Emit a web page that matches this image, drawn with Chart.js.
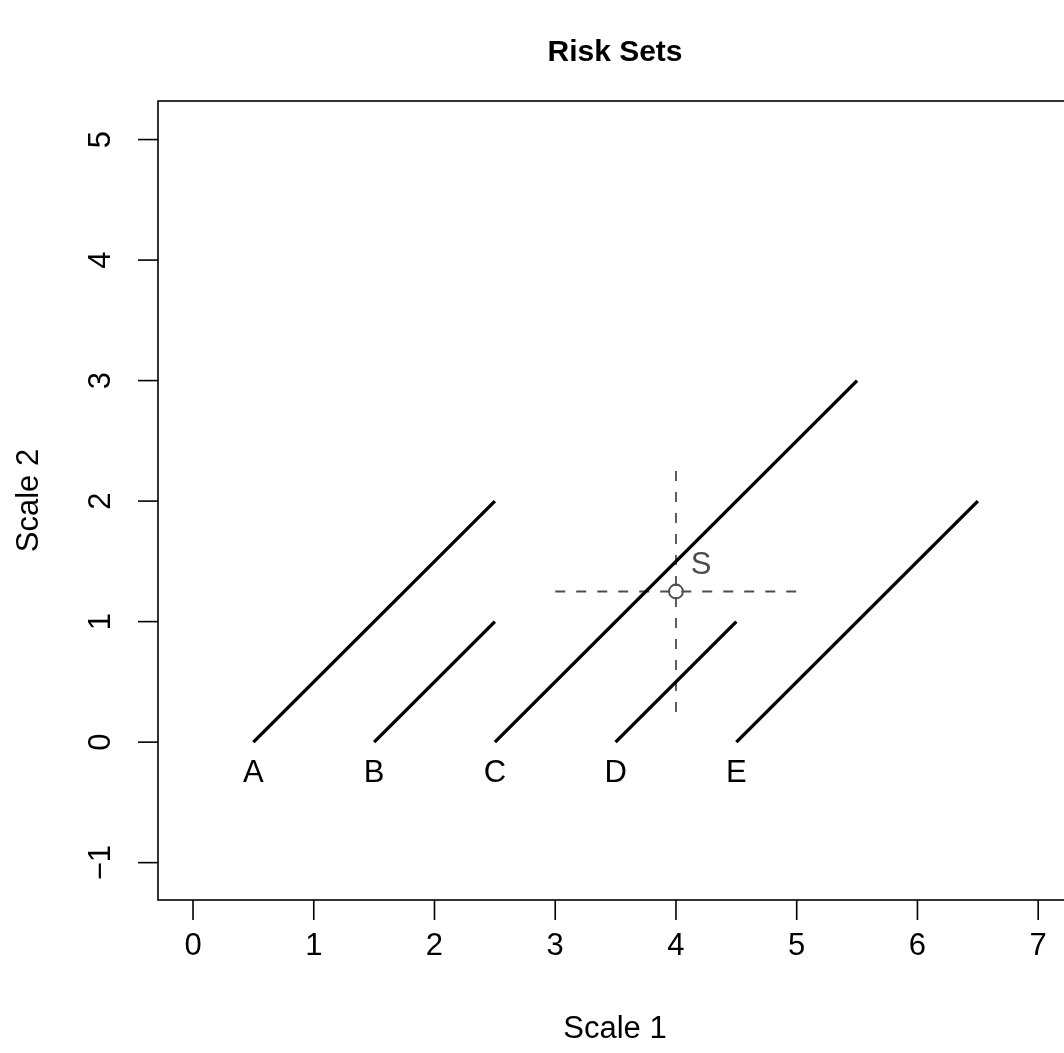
<!DOCTYPE html>
<html>
<head>
<meta charset="utf-8">
<script src="https://cdn.jsdelivr.net/npm/chart.js@4.4.1/dist/chart.umd.min.js"></script>
<style>
  html, body { margin: 0; padding: 0; background: #fff; overflow: hidden; }
  #wrap { width: 1100px; height: 1053px; }
</style>
</head>
<body>
<div id="wrap"><canvas id="chart" width="1100" height="1053"></canvas></div>
<script>
// risk set segments
const setNames = ["A", "B", "C", "D", "E"];
const startX = [0.5, 1.5, 2.5, 3.5, 4.5];
const startY = [0, 0, 0, 0, 0];
const endX = [2.5, 2.5, 5.5, 4.5, 6.5];
const endY = [2, 1, 3, 1, 2];

// the point S and its crosshair
const pointName = "S";
const pointX = 4;
const pointY = 1.25;
const crossX = [3, 5];
const crossY = [0.25, 2.25];

const xTicks = [0, 1, 2, 3, 4, 5, 6, 7];
const yTicks = [-1, 0, 1, 2, 3, 4, 5];

const grey = "#4d4d4d";
const font = "Liberation Sans, Arial, sans-serif";

const datasets = setNames.map((n, i) => ({
  label: n,
  data: [{ x: startX[i], y: startY[i] }, { x: endX[i], y: endY[i] }],
  showLine: true,
  borderColor: "#000",
  borderWidth: 3.4,
  pointRadius: 0,
}));
datasets.push({
  label: "hline",
  data: [{ x: crossX[0], y: pointY }, { x: crossX[1], y: pointY }],
  showLine: true,
  borderColor: grey,
  borderWidth: 1.8,
  borderDash: [10, 11],
  pointRadius: 0,
});
datasets.push({
  label: "vline",
  data: [{ x: pointX, y: crossY[0] }, { x: pointX, y: crossY[1] }],
  showLine: true,
  borderColor: grey,
  borderWidth: 1.8,
  borderDash: [10, 11],
  pointRadius: 0,
});
datasets.push({
  label: "S",
  data: [{ x: pointX, y: pointY }],
  showLine: false,
  borderColor: grey,
  backgroundColor: "#fff",
  borderWidth: 1.8,
  pointRadius: 7,
});

const axesPlugin = {
  id: "rAxes",
  afterDraw(chart) {
    const ctx = chart.ctx;
    const a = chart.chartArea;
    const xs = chart.scales.x, ys = chart.scales.y;
    ctx.save();
    ctx.strokeStyle = "#000";
    ctx.fillStyle = "#000";
    ctx.lineWidth = 1.6;
    ctx.strokeRect(a.left, a.top, a.right - a.left, a.bottom - a.top);

    ctx.font = "31px " + font;
    ctx.textAlign = "center";
    ctx.textBaseline = "middle";
    xTicks.forEach(v => {
      const px = xs.getPixelForValue(v);
      ctx.beginPath();
      ctx.moveTo(px, a.bottom);
      ctx.lineTo(px, a.bottom + 20);
      ctx.stroke();
      ctx.fillText(String(v), px, 946);
    });
    yTicks.forEach(v => {
      const py = ys.getPixelForValue(v);
      ctx.beginPath();
      ctx.moveTo(a.left, py);
      ctx.lineTo(a.left - 20, py);
      ctx.stroke();
      ctx.save();
      ctx.translate(101, py);
      ctx.rotate(-Math.PI / 2);
      ctx.fillText(v < 0 ? "\u2212" + Math.abs(v) : String(v), 0, 0);
      ctx.restore();
    });

    const cx = (a.left + a.right) / 2;
    const cy = (a.top + a.bottom) / 2;
    ctx.fillText("Scale 1", cx, 1029);
    ctx.save();
    ctx.translate(29, cy);
    ctx.rotate(-Math.PI / 2);
    ctx.fillText("Scale 2", 0, 0);
    ctx.restore();

    ctx.font = "bold 30px " + font;
    ctx.fillText("Risk Sets", cx, 53);

    // segment labels under each start
    ctx.font = "31px " + font;
    setNames.forEach((n, i) => {
      ctx.fillText(n, xs.getPixelForValue(startX[i]), ys.getPixelForValue(startY[i]) + 31);
    });
    ctx.fillStyle = grey;
    ctx.fillText(pointName, xs.getPixelForValue(pointX) + 25, ys.getPixelForValue(pointY) - 26);
    ctx.restore();
  }
};

new Chart(document.getElementById("chart"), {
  type: "scatter",
  data: { datasets },
  options: {
    responsive: false,
    animation: false,
    layout: { padding: { left: 158, top: 101, right: 28, bottom: 153 } },
    plugins: { legend: { display: false }, tooltip: { enabled: false } },
    scales: {
      x: { type: "linear", min: -0.29, max: 7.28, display: false },
      y: { type: "linear", min: -1.31, max: 5.32, display: false },
    },
  },
  plugins: [axesPlugin],
});
</script>
</body>
</html>
